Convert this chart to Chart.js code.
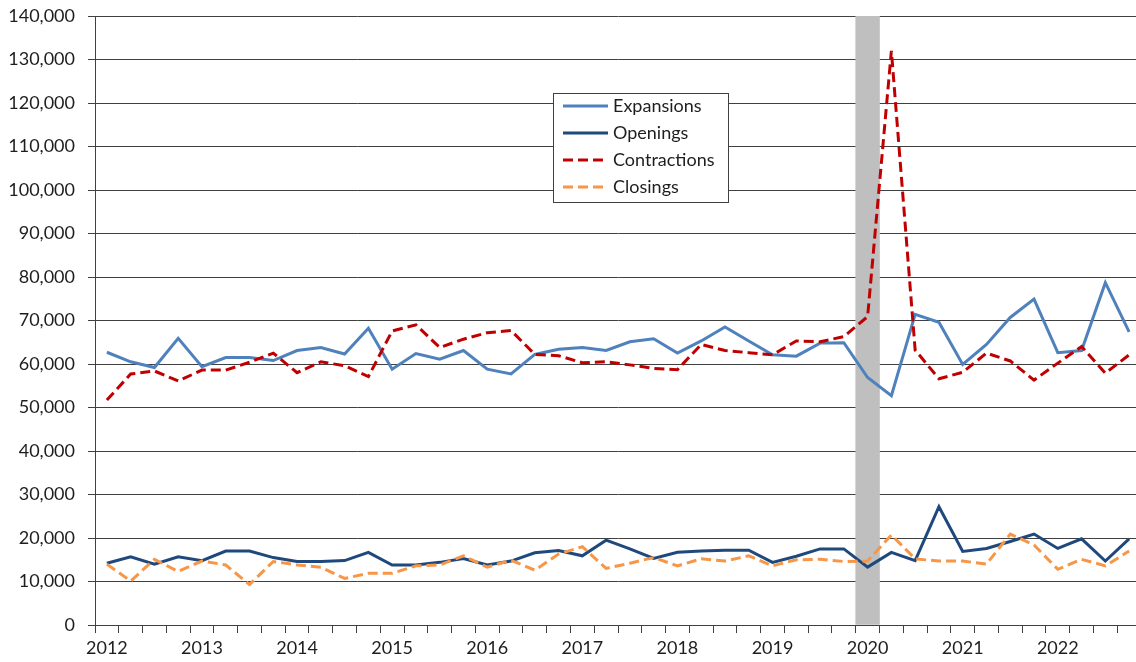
<!DOCTYPE html>
<html>
<head>
<meta charset="utf-8">
<title>Establishment expansions, openings, contractions and closings</title>
<script src="https://cdn.jsdelivr.net/npm/chart.js@4/dist/chart.umd.min.js"></script>
<style>
  html, body { margin: 0; padding: 0; background: #ffffff; overflow: hidden; }
  #wrap { width: 1142px; height: 662px; }
</style>
</head>
<body>
<div id="wrap"><canvas id="chart" width="1142" height="662"></canvas></div>
<script>
// Quarterly series, 2012 Q1 through 2022 Q4
const years = ['2012', '2013', '2014', '2015', '2016', '2017', '2018', '2019', '2020', '2021', '2022'];
const quarterNames = ['Q1', 'Q2', 'Q3', 'Q4'];

const expansions = [
  62700, 60500, 59200, 65900, 59400, 61500, 61500, 60800, 63100, 63800, 62300, 68200,
  58800, 62400, 61100, 63100, 58800, 57700, 62200, 63400, 63800, 63100, 65100, 65800,
  62500, 65300, 68500, 65300, 62100, 61800, 64800, 64900, 56900, 52700, 71400, 69600,
  59900, 64500, 70700, 74900, 62600, 63100, 78700, 67400
];
const openings = [
  14200, 15700, 14000, 15700, 14800, 17000, 17000, 15500, 14600, 14600, 14800, 16700,
  13800, 13800, 14400, 15300, 13800, 14700, 16600, 17100, 15900, 19500, 17500, 15300,
  16700, 17000, 17200, 17200, 14400, 15800, 17500, 17500, 13300, 16700, 14800, 27200,
  16900, 17600, 19200, 20900, 17600, 19800, 14700, 19800
];
const contractions = [
  51700, 57700, 58400, 56100, 58600, 58600, 60400, 62500, 58000, 60500, 59600, 57100,
  67600, 69000, 63800, 65700, 67200, 67700, 62200, 61900, 60300, 60500, 59800, 59000,
  58700, 64500, 63100, 62600, 62100, 65300, 65100, 66300, 70900, 132000, 63200, 56600,
  58100, 62500, 60700, 56300, 60200, 64000, 57900, 62100
];
const closings = [
  14000, 10100, 15100, 12300, 14700, 13800, 9300, 14600, 13800, 13300, 10700, 11900,
  11900, 13600, 13800, 15900, 13300, 14900, 12600, 16300, 18000, 13000, 14200, 15500,
  13600, 15200, 14700, 15900, 13600, 15000, 15100, 14600, 14700, 20700, 15200, 14700,
  14700, 14000, 20900, 18400, 12800, 15100, 13600, 17000
];

// Recession quarter shaded across the full height of the value axis
const recessionQuarter = '2020 Q1';
const yMin = 0;
const yMax = 140000;
const yStep = 10000;

const categories = [];
years.forEach(y => quarterNames.forEach(q => categories.push(y + ' ' + q)));

const recessionBand = categories.map(c => (c === recessionQuarter ? yMax : null));

const FONT = 'Lato, "Open Sans", "DejaVu Sans", sans-serif';
const TEXT = '#1e1e1e';
const RULE = '#404040';

// Boxed legend placed inside the plot, listing the four line series
const boxLegend = {
  id: 'boxLegend',
  afterDraw(chart) {
    const ctx = chart.ctx;
    const items = chart.data.datasets.filter(d => d.type === 'line');
    const x0 = 553.5, y0 = 93.5, w = 175, h = 109;
    ctx.save();
    ctx.fillStyle = '#ffffff';
    ctx.fillRect(x0, y0, w, h);
    ctx.strokeStyle = RULE;
    ctx.lineWidth = 1;
    ctx.strokeRect(x0, y0, w, h);
    ctx.font = '18px ' + FONT;
    ctx.textBaseline = 'middle';
    items.forEach((d, i) => {
      const cy = 106 + i * 27;
      ctx.beginPath();
      ctx.setLineDash(d.borderDash || []);
      ctx.strokeStyle = d.borderColor;
      ctx.lineWidth = 3;
      ctx.moveTo(563, cy);
      ctx.lineTo(608, cy);
      ctx.stroke();
      ctx.setLineDash([]);
      ctx.fillStyle = TEXT;
      ctx.fillText(d.label, 613, cy);
    });
    ctx.restore();
  }
};

function lineSet(label, data, color, dash, order) {
  return {
    type: 'line',
    label: label,
    data: data,
    borderColor: color,
    backgroundColor: color,
    borderWidth: 3,
    borderDash: dash,
    pointRadius: 0,
    tension: 0,
    fill: false,
    order: order
  };
}

new Chart(document.getElementById('chart'), {
  type: 'line',
  data: {
    labels: categories,
    datasets: [
      lineSet('Expansions', expansions, '#4f81bd', [], 4),
      lineSet('Openings', openings, '#1f497d', [], 3),
      lineSet('Contractions', contractions, '#c00000', [10, 5], 1),
      lineSet('Closings', closings, '#f79646', [10, 5], 2),
      {
        type: 'bar',
        label: 'Recession',
        data: recessionBand,
        backgroundColor: '#bfbfbf',
        borderWidth: 0,
        barPercentage: 1,
        categoryPercentage: 1,
        order: 10
      }
    ]
  },
  options: {
    responsive: false,
    animation: false,
    layout: { padding: { top: 16, right: 1, left: 0, bottom: 0 } },
    plugins: {
      legend: { display: false },
      tooltip: { enabled: false }
    },
    scales: {
      x: {
        type: 'category',
        offset: true,
        grid: {
          offset: true,
          drawOnChartArea: false,
          drawTicks: true,
          tickLength: 8,
          color: RULE,
          lineWidth: 1
        },
        border: { display: true, color: RULE, width: 1 },
        ticks: {
          autoSkip: false,
          maxRotation: 0,
          minRotation: 0,
          padding: 4,
          color: TEXT,
          font: { family: FONT, size: 18 },
          callback: function (value, index) {
            const c = categories[index];
            return c.endsWith('Q1') ? c.slice(0, 4) : '';
          }
        },
        afterFit(scale) {
          scale.height = 37;
          scale.paddingLeft = 0;
          scale.paddingRight = 0;
        }
      },
      y: {
        min: yMin,
        max: yMax,
        grid: {
          color: RULE,
          lineWidth: 1,
          drawTicks: true,
          tickLength: 7
        },
        border: { display: true, color: RULE, width: 1 },
        ticks: {
          stepSize: yStep,
          padding: 13,
          color: TEXT,
          font: { family: FONT, size: 18 },
          callback: v => Number(v).toLocaleString('en-US')
        },
        afterFit(scale) {
          scale.width = 95;
          scale.paddingTop = 0;
          scale.paddingBottom = 0;
        }
      }
    }
  },
  plugins: [boxLegend]
});
</script>
</body>
</html>
